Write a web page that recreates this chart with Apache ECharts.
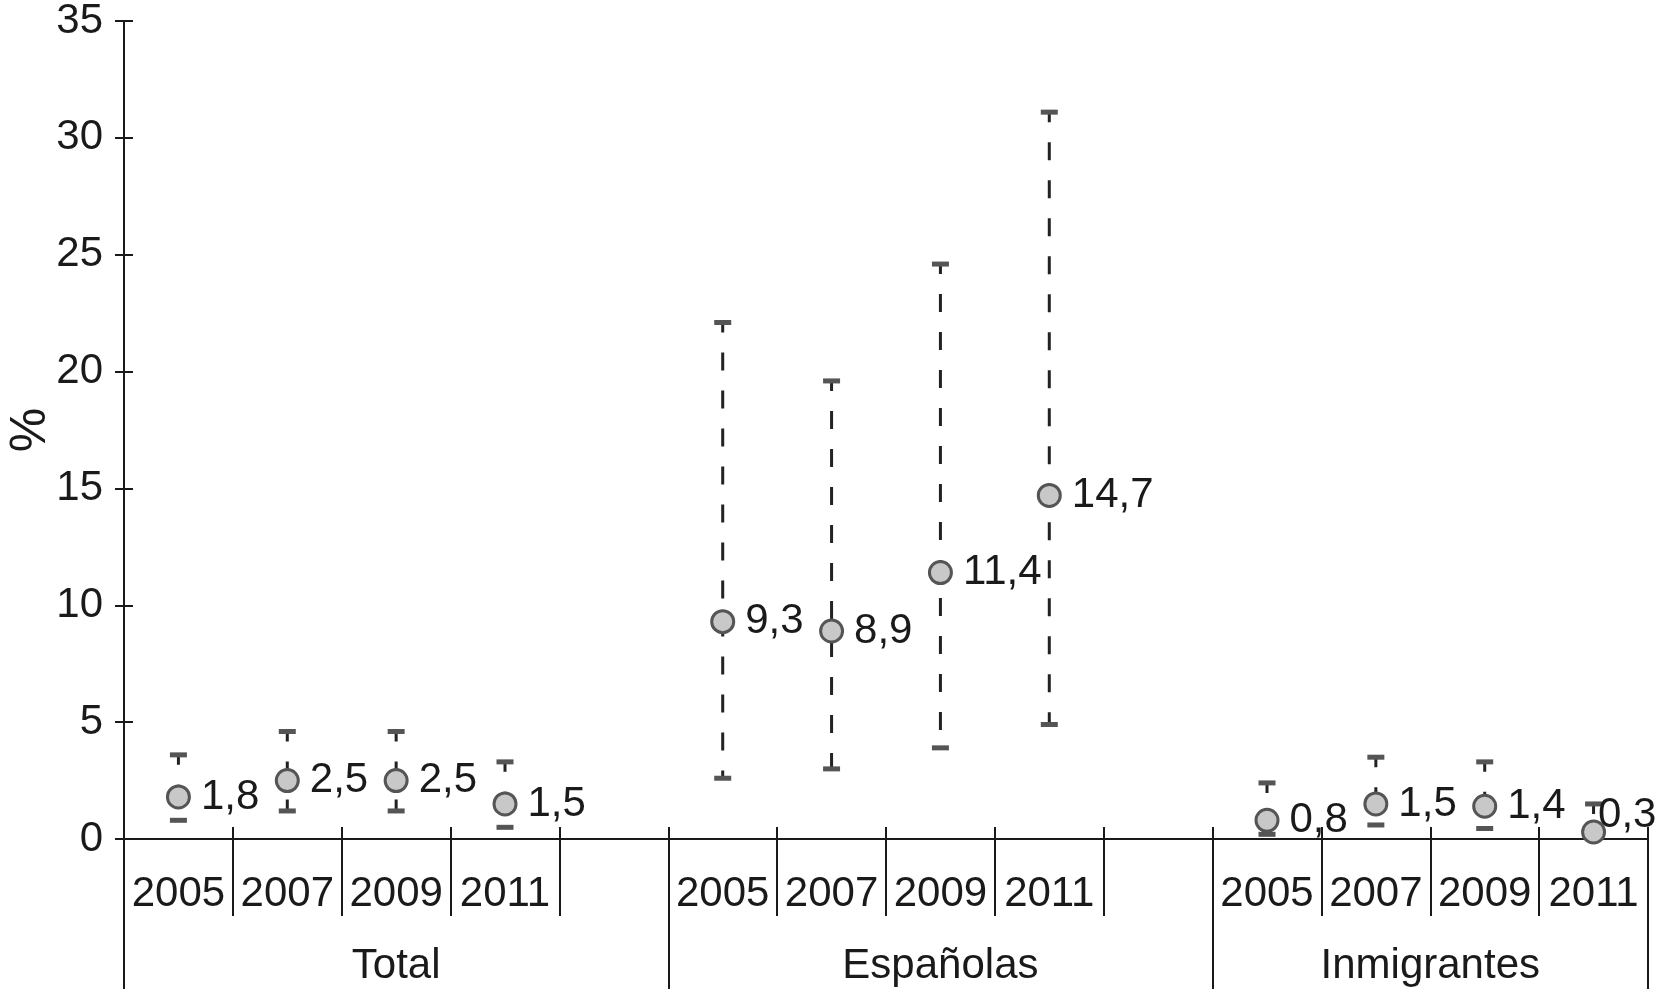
<!DOCTYPE html>
<html>
<head>
<meta charset="utf-8">
<script src="https://cdn.jsdelivr.net/npm/echarts@6/dist/echarts.min.js"></script>
<style>
  html, body { margin: 0; padding: 0; background: #fff; }
  #chart { width: 1662px; height: 989px; }
</style>
</head>
<body>
<div id="chart"></div>
<script>
// slots along the x axis: 4 years per group, with an empty slot between groups
const years = ['2005', '2007', '2009', '2011', '', '2005', '2007', '2009', '2011', '', '2005', '2007', '2009', '2011'];
const groups = ['Total', 'Españolas', 'Inmigrantes'];
const groupSlots = [5, 5, 4];

const estimate = [1.8, 2.5, 2.5, 1.5, null, 9.3, 8.9, 11.4, 14.7, null, 0.8, 1.5, 1.4, 0.3];
const lower = [0.8, 1.2, 1.2, 0.5, null, 2.6, 3.0, 3.9, 4.9, null, 0.2, 0.6, 0.45, 0.15];
const upper = [3.6, 4.6, 4.6, 3.3, null, 22.1, 19.6, 24.6, 31.1, null, 2.4, 3.5, 3.3, 1.5];

// group boundaries and centres on a 0..14 value scale
const bounds = [0];
const centres = [];
groupSlots.forEach((n, i) => {
  centres.push(bounds[i] + n / 2);
  bounds.push(bounds[i] + n);
});

const FONT = '"Liberation Sans", Arial, sans-serif';
const INK = '#1a1a1a';

const chart = echarts.init(document.getElementById('chart'));

function fmt(v) {
  return String(v).replace('.', ',');
}

function renderErrorBar(params, api) {
  const i = api.value(0);
  const top = api.coord([i, api.value(2)]);
  const bot = api.coord([i, api.value(1)]);
  const capW = 17, capH = 5;
  return {
    type: 'group',
    children: [
      {
        type: 'line',
        shape: {x1: top[0], y1: top[1], x2: bot[0], y2: bot[1]},
        style: {stroke: '#222', lineWidth: 3, lineDash: [18, 20], lineDashOffset: 8}
      },
      {
        type: 'rect',
        shape: {x: top[0] - capW / 2, y: top[1] - capH / 2, width: capW, height: capH},
        style: {fill: '#555'}
      },
      {
        type: 'rect',
        shape: {x: bot[0] - capW / 2, y: bot[1] - capH / 2, width: capW, height: capH},
        style: {fill: '#555'}
      }
    ]
  };
}

const barData = [];
estimate.forEach((v, i) => {
  if (v != null) barData.push([i, lower[i], upper[i]]);
});

const pointData = estimate.map((v, i) => {
  if (v == null) return null;
  const item = {value: v};
  // last value sits on the axis: its label is lifted above
  if (i === estimate.length - 1) {
    item.label = {distance: 0, offset: [-8, -17]};
  }
  return item;
});

const option = {
  animation: false,
  backgroundColor: '#fff',
  grid: {left: 124, right: 14, top: 21, bottom: 150, containLabel: false, outerBoundsMode: 'none'},
  xAxis: [
    {
      // year labels + short separators below the axis
      type: 'category',
      data: years,
      boundaryGap: true,
      position: 'bottom',
      axisLine: {show: true, lineStyle: {color: INK, width: 2}},
      axisTick: {show: true, interval: 0, length: 77, lineStyle: {color: INK, width: 2}},
      axisLabel: {interval: 0, margin: 34, fontSize: 42, color: INK, fontFamily: FONT},
      splitLine: {show: false}
    },
    {
      // short separators poking above the axis
      type: 'category',
      data: years,
      boundaryGap: true,
      position: 'bottom',
      axisLine: {show: false},
      axisTick: {show: true, inside: true, interval: 0, length: 12, lineStyle: {color: INK, width: 2}},
      axisLabel: {show: false},
      splitLine: {show: false}
    },
    {
      // group labels + long separators
      type: 'value',
      min: 0,
      max: bounds[bounds.length - 1],
      position: 'bottom',
      axisLine: {show: false},
      axisTick: {show: true, customValues: bounds, length: 152, lineStyle: {color: INK, width: 2}},
      axisLabel: {
        customValues: centres,
        margin: 106,
        fontSize: 42,
        color: INK,
        fontFamily: FONT,
        formatter: v => groups[centres.indexOf(v)] || ''
      },
      splitLine: {show: false}
    }
  ],
  yAxis: [
    {
      type: 'value',
      min: 0,
      max: 35,
      interval: 5,
      name: '%',
      nameLocation: 'middle',
      nameRotate: 90,
      nameGap: 68,
      nameMoveOverlap: false,
      nameTextStyle: {fontSize: 50, color: INK, fontFamily: FONT},
      axisLine: {show: true, lineStyle: {color: INK, width: 2}},
      axisTick: {show: true, length: 9, lineStyle: {color: INK, width: 2}},
      axisLabel: {margin: 21, fontSize: 42, color: INK, fontFamily: FONT},
      splitLine: {show: false}
    },
    {
      type: 'value',
      min: 0,
      max: 35,
      interval: 5,
      position: 'left',
      axisLine: {show: false},
      axisTick: {show: true, inside: true, length: 9, lineStyle: {color: INK, width: 2}},
      axisLabel: {show: false},
      splitLine: {show: false}
    }
  ],
  series: [
    {
      type: 'custom',
      xAxisIndex: 0,
      yAxisIndex: 0,
      renderItem: renderErrorBar,
      encode: {x: 0, y: [1, 2]},
      data: barData,
      z: 2
    },
    {
      type: 'scatter',
      xAxisIndex: 0,
      yAxisIndex: 0,
      symbol: 'circle',
      symbolSize: 22,
      itemStyle: {color: '#c8c8c8', borderColor: '#555', borderWidth: 3, opacity: 1},
      label: {
        show: true,
        position: 'right',
        distance: 10,
        fontSize: 42,
        color: INK,
        fontFamily: FONT,
        formatter: p => fmt(p.value)
      },
      data: pointData,
      z: 3
    }
  ]
};

chart.setOption(option);
</script>
</body>
</html>
